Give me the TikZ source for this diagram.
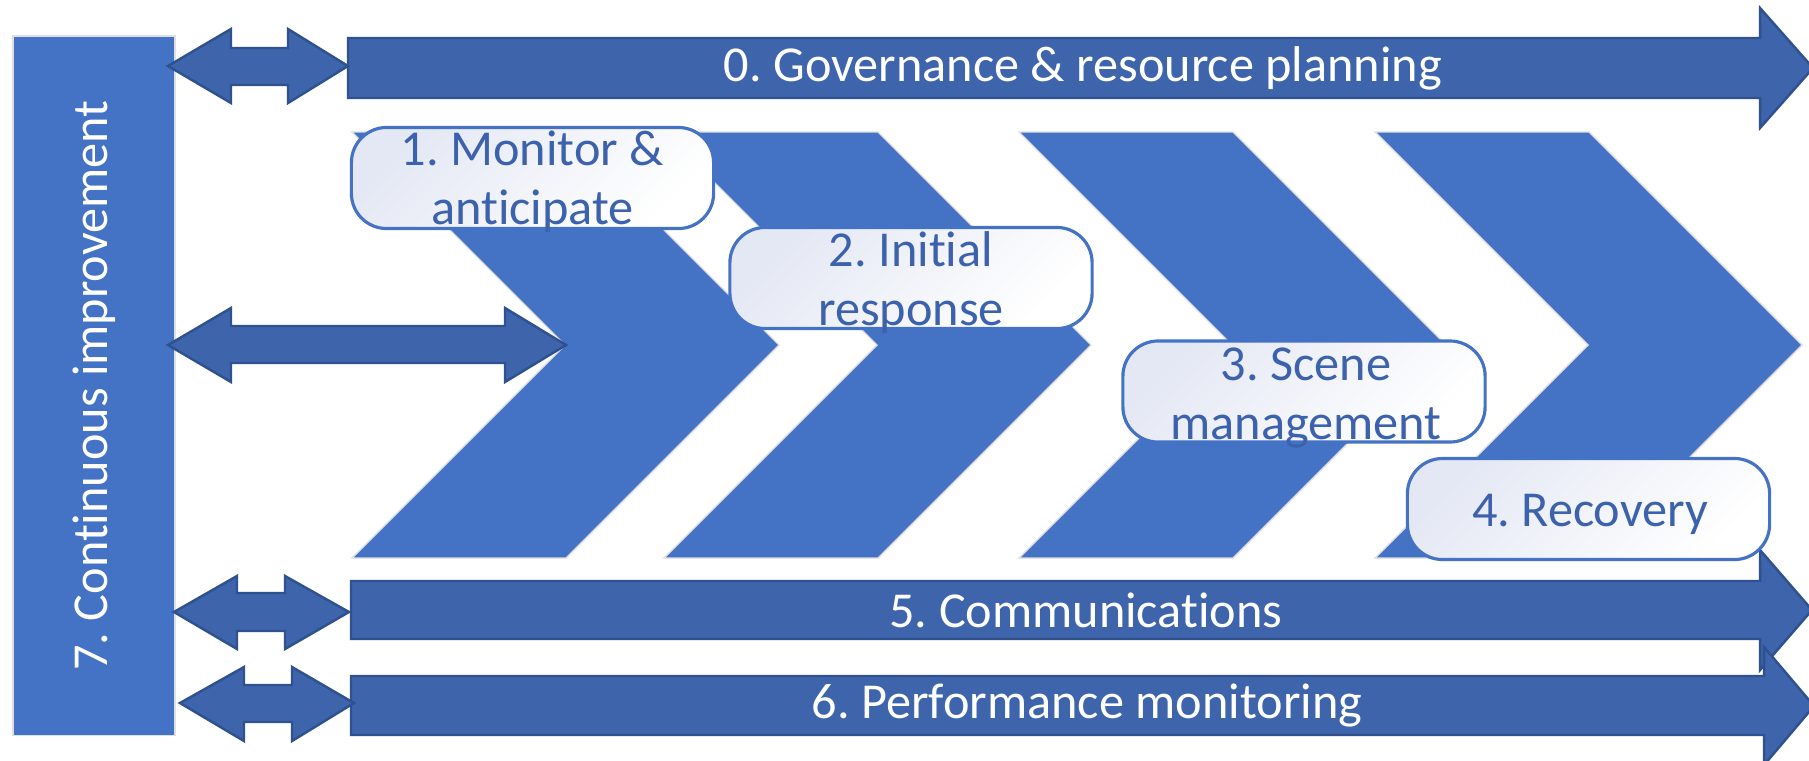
\documentclass[tikz,border=0pt]{standalone}
\usepackage{fontspec}
\setmainfont{Carlito}[Ligatures=NoCommon]
\frenchspacing
\definecolor{chevblue}{HTML}{4472C4}
\definecolor{barblue}{HTML}{3E64AC}
\definecolor{baredge}{HTML}{2F528F}
\definecolor{boxtint}{HTML}{E4E8F4}
\definecolor{boxtext}{HTML}{3C62AE}
\begin{document}
\begin{tikzpicture}
		[x=0.01cm,y=-0.01cm,
		chevron/.style={fill=chevblue,draw=white!75!gray,line width=0.4pt},
		bar/.style={fill=barblue,draw=baredge,line width=0.7pt,line join=miter},
		stage/.style={rectangle,rounded corners=10pt,draw=chevblue,line width=0.9pt,
top color=boxtint,bottom color=white,shading angle=45,inner sep=0pt,
minimum width=3.62cm,minimum height=1.01cm},
		stagetext/.style={align=center,text=boxtext,inner sep=0pt,
font=\fontsize{14.3pt}{16.8pt}\selectfont},
		bartext/.style={text=white,inner sep=0pt,font=\fontsize{14.3pt}{16.8pt}\selectfont}]
		\useasboundingbox (0,0) rectangle (1809,760);
		% left column
		\node at (94,385.5) (ci) [rotate=90,fill=chevblue,draw=white!75!gray,line width=0.4pt,
minimum width=6.99cm,minimum height=1.62cm,inner sep=0pt,text=white,
font=\fontsize{14.3pt}{16.8pt}\selectfont] {7. Continuous improvement};
		% chevrons
		\draw[chevron] (352,132) -- (566,132) -- (779,345) -- (566,558) -- (352,558) -- (565,345) -- cycle;
		\draw[chevron] (664,132) -- (878,132) -- (1091,345) -- (878,558) -- (664,558) -- (877,345) -- cycle;
		\draw[chevron] (1019,132) -- (1233,132) -- (1446,345) -- (1233,558) -- (1019,558) -- (1232,345) -- cycle;
		\draw[chevron] (1375,132) -- (1589,132) -- (1802,345) -- (1589,558) -- (1375,558) -- (1588,345) -- cycle;
		% bars
		\draw[bar] (348,38) -- (1760,38) -- (1760,8) -- (1813,68) -- (1760,128) -- (1760,98) -- (348,98) -- cycle;
		\node at (1083,68) (gov) [bartext] {0. Governance \& resource planning};
		\draw[bar] (351,581) -- (1760,581) -- (1760,550) -- (1812,610) -- (1760,670) -- (1760,639) -- (351,639) -- cycle;
		\node at (1086,610) (com) [bartext] {5. Communications};
		\draw[bar] (351,676) -- (1764,676) -- (1764,647) -- (1814,706) -- (1764,765) -- (1764,735) -- (351,735) -- cycle;
		\node at (1087,706) (perf) [bartext] {6. Performance monitoring};
		% double arrows
		\draw[bar] (168,66) -- (231,29) -- (231,48) -- (288,48) -- (288,29) -- (348,66) -- (288,103) -- (288,85) -- (231,85) -- (231,103) -- cycle;
		\draw[bar] (168,345) -- (231,308) -- (231,326) -- (505,326) -- (505,308) -- (566,345) -- (505,382) -- (505,363) -- (231,363) -- (231,382) -- cycle;
		\draw[bar] (174,612) -- (237,576) -- (237,593) -- (285,593) -- (285,576) -- (349,612) -- (285,649) -- (285,631) -- (237,631) -- (237,649) -- cycle;
		\draw[bar] (180,703) -- (244,667) -- (244,685) -- (292,685) -- (292,667) -- (354,703) -- (292,741) -- (292,722) -- (244,722) -- (244,741) -- cycle;
		% stages
		\node at (532.5,178) (s1) [stage] {};
		\node at (532.5,182) (t1) [stagetext] {1. Monitor \&\\anticipate};
		\node at (911,278) (s2) [stage] {};
		\node at (911,283) (t2) [stagetext] {2. Initial\\response};
		\node at (1304,391.5) (s3) [stage] {};
		\node at (1306,398) (t3) [stagetext] {3. Scene\\management};
		\node at (1588.5,509) (s4) [stage] {};
		\node at (1590,514) (t4) [stagetext] {4. Recovery};
\end{tikzpicture}
\end{document}
